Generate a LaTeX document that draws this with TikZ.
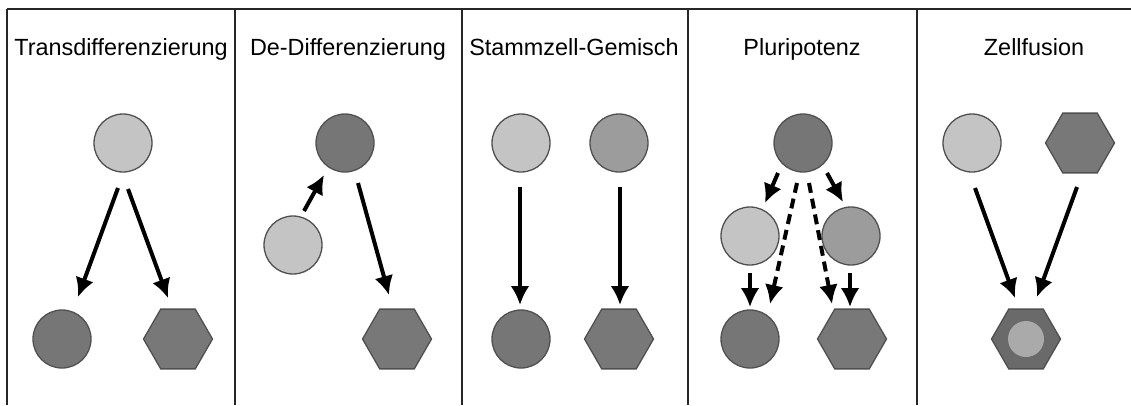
\documentclass[tikz,border=0pt]{standalone}
\usepackage{fontspec}
\setmainfont{Liberation Sans}
\usetikzlibrary{shapes.geometric,arrows.meta,calc}
\definecolor{cLight}{HTML}{C4C4C4}
\definecolor{cMed}{HTML}{9C9C9C}
\definecolor{cDark}{HTML}{767676}
\definecolor{cHex}{HTML}{787878}
\definecolor{cFus}{HTML}{6A6A6A}
\definecolor{cInner}{HTML}{AAAAAA}
\definecolor{cEdge}{HTML}{505050}
\tikzset{
  cell/.style={circle,draw=cEdge,line width=1.3pt,minimum size=58pt,inner sep=0pt},
  hexa/.style={regular polygon,regular polygon sides=6,draw=cEdge,line width=1.3pt,minimum size=69pt,inner sep=0pt,fill=cHex},
  arr/.style={line width=4pt,-{Latex[length=19pt,width=19pt]}},
  darr/.style={arr,dash pattern=on 10pt off 6pt},
  title/.style={anchor=base,font=\fontsize{23.4}{28}\selectfont,inner sep=0pt},
  frame/.style={line width=1.4pt,draw=black!85}
}
\begin{document}
\begin{tikzpicture}[x=1pt,y=-1pt]
\useasboundingbox (0,0) rectangle (1131,405);
% frame
\coordinate (tl) at (7,9);
\coordinate (tr) at (1131,9);
\draw[frame,line width=1.9pt] (tl) -- (tr);
\foreach \x in {7,235,462,688,917}{\draw[frame] (\x,9) -- (\x,405);}
% titles
\node[title] (t1) at (121,55) {Transdifferenzierung};
\node[title] (t2) at (348,55) {De-Differenzierung};
\node[title] (t3) at (574,55) {Stammzell-Gemisch};
\node[title] (t4) at (802,55) {Pluripotenz};
\node[title] (t5) at (1034,55) {Zellfusion};
% panel 1
\node[cell,fill=cLight] (a1) at (123,143) {};
\node[cell,fill=cDark] (a2) at (62,339) {};
\node[hexa] (a3) at (178,339) {};
\draw[arr] ($(a1)+(-5,45)$) -- ($(a2)+(16,-42)$);
\draw[arr] ($(a1)+(5,46)$) -- ($(a3)+(-10,-41)$);
% panel 2
\node[cell,fill=cDark] (b1) at (345,143) {};
\node[cell,fill=cLight] (b2) at (293,245) {};
\node[hexa] (b3) at (397,339) {};
\draw[arr] ($(b2)+(11,-34)$) -- ($(b1)+(-21,32)$);
\draw[arr] ($(b1)+(13,40)$) -- ($(b3)+(-8,-44)$);
% panel 3
\node[cell,fill=cLight] (c1) at (521,143) {};
\node[cell,fill=cMed] (c2) at (619,143) {};
\node[cell,fill=cDark] (c3) at (521,339) {};
\node[hexa] (c4) at (619,339) {};
\draw[arr] ($(c1)+(-1,44)$) -- ($(c3)+(-1,-34)$);
\draw[arr] ($(c2)+(1,44)$) -- ($(c4)+(1,-34)$);
% panel 4
\node[cell,fill=cDark] (d1) at (803,143) {};
\node[cell,fill=cLight] (d2) at (750,236) {};
\node[cell,fill=cMed] (d3) at (851,236) {};
\node[cell,fill=cDark] (d4) at (750,339) {};
\node[hexa] (d5) at (852,339) {};
\draw[arr] ($(d1)+(-25,30)$) -- ($(d2)+(15,-33)$);
\draw[arr] ($(d1)+(24,30)$) -- ($(d3)+(-8,-34)$);
\draw[darr] ($(d1)+(-6,40)$) -- ($(d4)+(20,-35)$);
\draw[darr] ($(d1)+(6,40)$) -- ($(d5)+(-20,-35)$);
\draw[arr] ($(d2)+(0,37)$) -- ($(d4)+(0,-32)$);
\draw[arr] ($(d3)+(-1,37)$) -- ($(d5)+(-2,-32)$);
% panel 5
\node[cell,fill=cLight] (e1) at (972,143) {};
\node[hexa] (e2) at (1080,143) {};
\node[hexa,fill=cFus] (e3) at (1026,339) {};
\node[circle,fill=cInner,minimum size=36pt,inner sep=0pt] (e4) at (e3) {};
\draw[arr] ($(e1)+(3,45)$) -- ($(e3)+(-11,-41)$);
\draw[arr] ($(e2)+(-3,44)$) -- ($(e3)+(11,-42)$);
\end{tikzpicture}
\end{document}
